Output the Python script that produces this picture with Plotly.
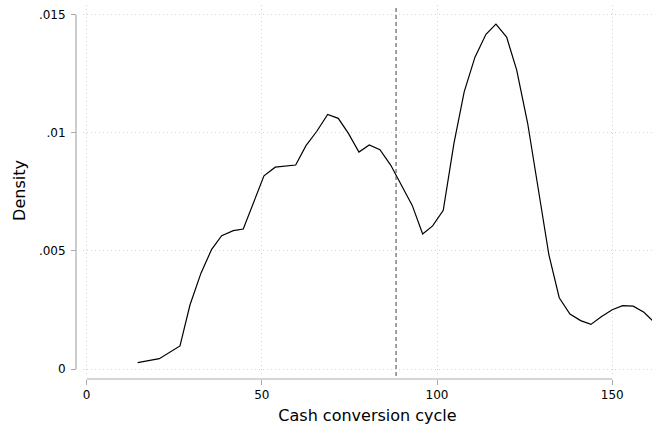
import plotly.graph_objects as go

# Kernel density of cash conversion cycle
ccc = [14.55, 20.72, 26.63, 29.48, 32.62, 35.67, 38.53, 41.84, 44.69, 50.60,
       53.82, 59.65, 62.59, 65.64, 68.78, 71.80, 74.66, 77.71, 80.65, 83.70,
       86.76, 89.90, 92.92, 95.89, 98.74, 101.77, 104.82, 107.76, 110.82,
       113.96, 116.81, 119.86, 122.72, 125.86, 128.88, 131.93, 134.87, 137.93,
       140.98, 143.92, 146.97, 150.00, 152.97, 155.99, 159.04, 162.0]
density = [0.000267, 0.000436, 0.000975, 0.00271, 0.00406, 0.00507, 0.00565,
           0.00586, 0.00593, 0.00818, 0.00855, 0.00864, 0.00946, 0.01006,
           0.01078, 0.01062, 0.00999, 0.00919, 0.00949, 0.00929, 0.00864,
           0.00775, 0.00693, 0.00572, 0.00606, 0.00672, 0.00956, 0.01175,
           0.01321, 0.01418, 0.01461, 0.01406, 0.01267, 0.01041, 0.00758,
           0.00483, 0.00302, 0.00233, 0.00205, 0.00189, 0.00222, 0.00251,
           0.00268, 0.00266, 0.00240, 0.00198]
mean_line = 88.3

x_ticks = [0, 50, 100, 150]
x_tick_labels = ["0", "50", "100", "150"]
y_ticks = [0, 0.005, 0.01, 0.015]
y_tick_labels = ["0", ".005", ".01", ".015"]

axis_gray = "#aaaaaa"
grid_gray = "#d4d4d4"
font_family = "DejaVu Sans"

fig = go.Figure()
fig.add_trace(go.Scatter(x=ccc, y=density, mode="lines",
                         line=dict(color="black", width=1.2),
                         hoverinfo="skip", showlegend=False))

# vertical dashed reference line
fig.add_shape(type="line", xref="x", yref="paper", x0=mean_line, x1=mean_line,
              y0=0.008, y1=1, line=dict(color="#444444", width=1, dash="4px,3px"))
# Stata-style axis lines spanning the tick range
fig.add_shape(type="line", xref="x", yref="paper", x0=x_ticks[0], x1=x_ticks[-1],
              y0=0, y1=0, line=dict(color=axis_gray, width=1.2))
fig.add_shape(type="line", xref="paper", yref="y", x0=0, x1=0,
              y0=y_ticks[0], y1=y_ticks[-1], line=dict(color=axis_gray, width=1.2))

fig.update_layout(
    width=652, height=427,
    margin=dict(l=76, r=0, t=5, b=48),
    paper_bgcolor="white", plot_bgcolor="white",
    font=dict(family=font_family, color="black", size=12),
    showlegend=False,
    xaxis=dict(domain=[0.0121, 1], range=[-1.06, 161.35], anchor="free", position=0,
               tickmode="array", tickvals=x_ticks, ticktext=x_tick_labels,
               ticks="outside", ticklen=5, tickcolor=axis_gray, tickwidth=1.2,
               showline=False, zeroline=False,
               showgrid=True, gridcolor=grid_gray, griddash="1px,3px", gridwidth=1,
               tickfont=dict(size=12),
               title=dict(text="Cash conversion cycle", font=dict(size=16), standoff=8)),
    yaxis=dict(domain=[0.008, 1], range=[-0.000297, 0.01542], anchor="free", position=0,
               tickmode="array", tickvals=y_ticks, ticktext=y_tick_labels,
               ticks="outside", ticklen=5, tickcolor=axis_gray, tickwidth=1.2,
               ticklabelstandoff=3,
               showline=False, zeroline=False,
               showgrid=True, gridcolor=grid_gray, griddash="1px,3px", gridwidth=1,
               tickfont=dict(size=12),
               title=dict(text="Density", font=dict(size=16), standoff=8)),
)

# remove the default 8px page margin so the figure fills the window exactly
fig.write_html("out.html",
               config={"displayModeBar": False},
               post_script="document.body.style.margin='0';document.body.style.overflow='hidden';")
